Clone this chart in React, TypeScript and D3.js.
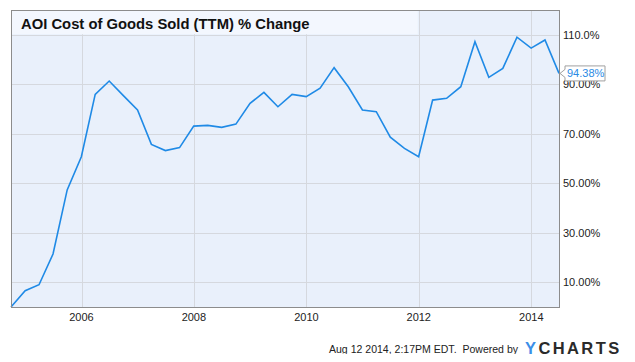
import React from 'react';
import * as d3 from 'd3';

const quarterEnds = [
  '2004-09-30', '2004-12-31', '2005-03-31', '2005-06-30', '2005-09-30', '2005-12-31',
  '2006-03-31', '2006-06-30', '2006-09-30', '2006-12-31', '2007-03-31', '2007-06-30',
  '2007-09-30', '2007-12-31', '2008-03-31', '2008-06-30', '2008-09-30', '2008-12-31',
  '2009-03-31', '2009-06-30', '2009-09-30', '2009-12-31', '2010-03-31', '2010-06-30',
  '2010-09-30', '2010-12-31', '2011-03-31', '2011-06-30', '2011-09-30', '2011-12-31',
  '2012-03-31', '2012-06-30', '2012-09-30', '2012-12-31', '2013-03-31', '2013-06-30',
  '2013-09-30', '2013-12-31', '2014-03-31', '2014-06-30',
];

const pctChange = [
  0, 6.6, 9.0, 21.4, 47.3, 60.7, 85.9, 91.3, 85.4, 79.6,
  65.7, 63.2, 64.4, 73.1, 73.4, 72.6, 73.9, 82.3, 86.7, 80.9,
  85.9, 85.0, 88.4, 96.7, 89.0, 79.6, 78.9, 68.6, 64.1, 60.7,
  83.6, 84.3, 89.0, 107.2, 92.8, 96.4, 109.0, 104.6, 107.9, 94.38,
];

const yTicks = [10, 30, 50, 70, 90, 110];
const yTickLabels = ['10.00%', '30.00%', '50.00%', '70.00%', '90.00%', '110.0%'];
const xTickYears = [2006, 2008, 2010, 2012, 2014];

const title = 'AOI Cost of Goods Sold (TTM) % Change';
const lastLabel = '94.38%';
const footer = 'Aug 12 2014, 2:17PM EDT.  Powered by';

const FONT = 'Arial, "Liberation Sans", Helvetica, sans-serif';

interface Pt { date: Date; v: number; }

export default function App() {
  const W = 635;
  const H = 362;
  const L = 11, R = 559, T = 10, B = 307;

  const pts: Pt[] = quarterEnds.map((d, i) => ({ date: new Date(`${d}T00:00:00`), v: pctChange[i] }));

  const x = d3.scaleTime()
    .domain([pts[0].date, pts[pts.length - 1].date])
    .range([L, R]);
  const y = d3.scaleLinear().domain([0, 120]).range([B, T]);

  const line = d3.line<Pt>().x(d => x(d.date)).y(d => y(d.v));

  const last = pts[pts.length - 1];
  const lx = x(last.date);
  const ly = y(last.v);
  const titleRight = x(new Date('2012-01-01T00:00:00'));

  return (
    <div style={{ margin: -8, width: W, height: H }}>
      <svg width={W} height={H} style={{ display: 'block', fontFamily: FONT }}>
        <rect x={0} y={0} width={W} height={H} fill="#fff" />
        <rect x={0.5} y={0.5} width={W - 1} height={H - 1} fill="none" stroke="#8a8a8a" />

        <rect x={L} y={T} width={R - L} height={B - T} fill="#e9f0fb" />

        {yTicks.map(t => (
          <line key={`gy${t}`} x1={L} x2={R} y1={Math.round(y(t)) + 0.5} y2={Math.round(y(t)) + 0.5}
            stroke="#d5d8de" />
        ))}
        {xTickYears.map(yr => {
          const px = Math.round(x(new Date(`${yr}-01-01T00:00:00`))) + 0.5;
          return <line key={`gx${yr}`} x1={px} x2={px} y1={T} y2={B} stroke="#d5d8de" />;
        })}

        <rect x={L} y={T} width={titleRight - L - 1} height={y(110) - T - 0.5} fill="#f3f7fe" />
        <text x={21} y={29} fontSize={14.8} fontWeight="bold" fill="#111">{title}</text>

        <path d={line(pts) || ''} fill="none" stroke="#1f8ae6" strokeWidth={1.6}
          strokeLinejoin="miter" />

        <rect x={L + 0.5} y={T + 0.5} width={R - L} height={B - T} fill="none" stroke="#8c8c8c" />

        {yTicks.map((t, i) => (
          <text key={`ty${t}`} x={563} y={y(t) + 4} fontSize={11} fill="#222">{yTickLabels[i]}</text>
        ))}
        {xTickYears.map(yr => (
          <text key={`tx${yr}`} x={x(new Date(`${yr}-01-01T00:00:00`))} y={321} fontSize={11}
            fill="#222" textAnchor="middle">{yr}</text>
        ))}

        <path d={`M${lx + 1},${ly} L${lx + 6},${ly - 4} L${lx + 6},${ly - 7.5} L${lx + 46},${ly - 7.5} L${lx + 46},${ly + 7.5} L${lx + 6},${ly + 7.5} L${lx + 6},${ly + 4} Z`}
          fill="#fff" stroke="#a0a0a0" />
        <text x={lx + 8} y={ly + 4} fontSize={11} fill="#2a8ae4">{lastLabel}</text>

        <text x={329} y={353} fontSize={10.6} fill="#222" style={{ whiteSpace: 'pre' }}
          textLength={189} lengthAdjust="spacingAndGlyphs">{footer}</text>
        <text x={525} y={354} fontSize={16.5} fontWeight="bold" letterSpacing={2.4}>
          <tspan fill="#3b8fe8">Y</tspan>
          <tspan fill="#2a2a2a">CHARTS</tspan>
        </text>
      </svg>
    </div>
  );
}
